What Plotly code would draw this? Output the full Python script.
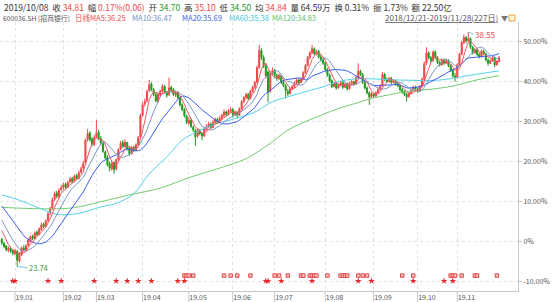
import numpy as np
import pandas as pd
import plotly.graph_objects as go

# ---------------- data (percent change vs. base close) ----------------
open_pct = [
    0.6, -0.4, -1.0, -2.2, -1.6, -2.2, -3.0, -2.4, -4.8, -3.2,
    -1.6, -2.0, -0.8, 0.2, 1.4, 0.8, 2.4, 1.8, 3.0, 4.4,
    3.8, 5.4, 7.2, 8.4, 10.6, 12.2, 11.2, 13.0, 13.6, 14.4,
    13.6, 15.0, 15.8, 15.2, 16.6, 15.8, 17.4, 18.4, 19.8, 25.6,
    27.2, 25.6, 24.2, 26.2, 27.4, 25.8, 24.6, 22.4, 21.0, 19.4,
    18.2, 19.8, 18.2, 20.6, 23.2, 24.8, 23.8, 24.8, 23.4, 22.0,
    23.6, 22.8, 24.2, 26.2, 31.6, 34.4, 35.2, 37.8, 39.4, 38.0,
    36.8, 35.0, 36.6, 37.6, 38.8, 37.2, 36.8, 38.6, 38.0, 36.6,
    37.4, 36.0, 34.2, 33.0, 31.4, 29.6, 30.4, 28.6, 27.8, 26.4,
    27.8, 27.0, 26.4, 28.0, 28.8, 29.4, 28.6, 29.8, 30.6, 29.8,
    30.8, 31.6, 32.4, 31.8, 32.6, 33.0, 31.8, 32.4, 31.6, 33.2,
    35.0, 36.0, 36.8, 35.8, 37.6, 38.6, 39.8, 43.6, 47.8, 46.0,
    44.0, 42.4, 37.6, 42.0, 42.8, 41.6, 40.8, 41.4, 39.8, 39.0,
    37.6, 37.0, 38.2, 38.8, 39.6, 40.4, 39.8, 40.6, 42.2, 44.0,
    46.0, 47.2, 48.2, 47.0, 47.6, 46.2, 45.4, 44.6, 43.0, 41.6,
    40.2, 38.8, 39.6, 38.4, 39.2, 39.8, 38.6, 39.4, 38.2, 39.6,
    40.0, 39.4, 41.0, 42.6, 41.8, 39.8, 38.4, 37.2, 36.2, 37.0,
    36.4, 37.2, 38.0, 39.0, 41.8, 40.6, 40.0, 40.8, 39.8, 40.2,
    39.4, 39.0, 38.0, 37.4, 36.8, 36.2, 37.0, 37.8, 38.6, 38.2,
    37.6, 38.8, 40.6, 44.6, 47.2, 46.0, 45.2, 47.4, 46.0, 44.8,
    44.2, 45.4, 44.6, 45.2, 44.0, 42.8, 41.4, 41.0, 44.2, 46.8,
    49.8, 51.0, 50.2, 50.8, 48.6, 47.2, 48.0, 46.8, 46.2, 47.6,
    47.0, 45.4, 44.6, 45.2, 46.0, 44.2, 45.0,
]
high_pct = [
    1.0, 0.0, -0.8, -1.2, -1.2, -2.0, -1.8, -2.0, -2.6, -1.2,
    -0.8, -0.6, 0.8, 1.6, 1.8, 2.6, 2.8, 3.6, 4.8, 4.8,
    5.6, 7.4, 8.8, 11.0, 12.6, 12.8, 13.4, 14.2, 14.8, 14.8,
    15.2, 16.2, 16.2, 16.8, 17.0, 17.8, 18.8, 20.2, 25.8, 28.2,
    27.6, 26.2, 26.6, 30.4, 28.0, 26.4, 25.0, 22.8, 21.6, 20.0,
    20.2, 20.0, 20.8, 23.4, 25.2, 25.4, 25.6, 25.0, 23.8, 24.0,
    24.0, 24.6, 26.4, 32.0, 34.8, 35.8, 38.0, 40.4, 39.8, 38.4,
    37.2, 37.2, 38.0, 39.4, 39.2, 37.6, 41.0, 39.0, 38.4, 37.8,
    37.6, 36.4, 34.6, 33.4, 31.8, 31.2, 30.8, 29.0, 28.2, 28.4,
    28.2, 27.4, 28.6, 29.4, 30.0, 29.8, 30.4, 31.0, 31.0, 31.4,
    32.0, 33.0, 32.8, 33.2, 33.6, 33.4, 32.8, 32.6, 33.6, 35.4,
    36.4, 37.2, 37.2, 38.0, 39.0, 40.2, 44.0, 49.2, 48.4, 46.6,
    44.6, 42.8, 42.6, 43.6, 43.2, 42.0, 42.0, 41.8, 40.4, 39.4,
    38.2, 38.6, 39.2, 40.0, 40.8, 40.8, 41.0, 42.6, 44.4, 46.4,
    47.6, 49.2, 48.6, 48.0, 48.0, 46.8, 46.0, 45.0, 43.4, 42.0,
    40.6, 40.0, 40.0, 39.6, 40.2, 40.2, 39.8, 39.8, 40.0, 40.4,
    40.2, 41.4, 44.6, 43.0, 42.2, 40.2, 38.8, 37.6, 37.4, 37.2,
    37.6, 38.4, 39.4, 42.4, 42.2, 41.0, 41.2, 41.2, 40.6, 40.4,
    39.8, 39.4, 38.4, 37.8, 37.2, 37.4, 38.2, 39.0, 39.0, 38.8,
    39.2, 41.0, 45.0, 48.6, 47.6, 46.4, 47.8, 47.8, 46.4, 45.2,
    45.8, 45.8, 45.6, 45.6, 44.4, 43.2, 42.2, 44.6, 47.2, 50.2,
    51.8, 51.4, 52.4, 51.0, 49.0, 48.4, 48.2, 47.2, 48.0, 48.0,
    47.2, 45.8, 45.6, 46.4, 46.2, 45.4, 46.4,
]
low_pct = [
    -0.8, -1.6, -2.4, -2.6, -2.8, -3.4, -3.4, -6.2, -5.2, -3.6,
    -2.4, -2.2, -1.2, -0.2, 0.4, 0.6, 1.4, 1.6, 2.8, 3.4,
    3.6, 5.0, 6.6, 8.0, 10.2, 10.8, 11.0, 12.6, 13.0, 13.2,
    13.4, 14.6, 14.6, 14.8, 15.4, 15.6, 17.0, 18.0, 19.6, 25.0,
    25.0, 23.8, 24.0, 25.8, 25.4, 24.2, 22.2, 20.6, 18.8, 17.6,
    17.8, 17.0, 17.8, 20.2, 22.8, 23.4, 23.6, 22.8, 21.4, 21.8,
    22.4, 22.6, 24.0, 26.0, 31.2, 33.8, 34.8, 37.4, 37.6, 36.4,
    34.8, 34.8, 36.2, 37.2, 37.0, 36.0, 36.4, 37.4, 36.4, 36.2,
    35.6, 33.8, 32.6, 31.0, 29.4, 29.2, 28.4, 27.4, 24.0, 26.0,
    26.6, 25.4, 26.2, 27.8, 28.4, 28.2, 28.4, 29.4, 29.4, 29.6,
    30.4, 31.2, 31.2, 31.6, 32.2, 31.0, 31.4, 30.8, 31.4, 33.0,
    34.6, 35.6, 35.4, 35.6, 37.2, 38.2, 39.6, 43.2, 45.4, 43.4,
    41.0, 34.8, 37.2, 41.6, 41.0, 40.2, 40.4, 39.4, 38.6, 35.8,
    36.4, 36.8, 37.8, 38.4, 39.2, 39.4, 39.6, 40.4, 42.0, 43.8,
    45.6, 46.8, 46.6, 46.6, 45.8, 45.0, 44.2, 42.6, 41.2, 39.8,
    38.4, 38.6, 38.0, 38.2, 38.8, 38.2, 38.4, 37.8, 38.0, 39.2,
    39.0, 39.2, 40.8, 41.4, 39.4, 38.0, 36.8, 34.2, 35.8, 36.0,
    36.2, 37.0, 37.8, 38.8, 40.2, 39.6, 39.8, 39.4, 39.6, 39.0,
    38.6, 37.6, 37.0, 36.4, 35.0, 36.0, 36.8, 37.6, 37.8, 37.2,
    37.4, 38.6, 40.4, 44.2, 45.6, 44.8, 45.0, 45.6, 44.4, 43.8,
    44.0, 44.2, 44.4, 43.6, 42.4, 41.0, 40.0, 40.8, 44.0, 46.6,
    49.4, 49.6, 49.8, 48.2, 46.8, 47.0, 46.4, 45.8, 46.0, 46.6,
    45.0, 44.0, 44.4, 45.0, 43.6, 44.0, 44.8,
]
close_pct = [
    -0.3, -1.2, -2.0, -1.6, -2.4, -2.9, -2.2, -4.6, -3.0, -1.5,
    -2.0, -1.0, 0.4, 1.2, 0.8, 2.2, 1.8, 3.2, 4.2, 3.8,
    5.2, 7.0, 8.2, 10.5, 12.0, 11.4, 12.8, 13.5, 14.2, 13.6,
    14.8, 15.6, 15.0, 16.4, 15.8, 17.2, 18.2, 19.5, 25.4, 27.0,
    25.5, 24.4, 26.0, 27.2, 25.8, 24.8, 22.6, 21.0, 19.2, 18.4,
    19.6, 18.0, 20.5, 23.0, 24.6, 23.8, 24.8, 23.2, 22.0, 23.5,
    22.8, 24.2, 26.0, 31.5, 34.2, 35.0, 37.5, 39.2, 38.0, 36.8,
    35.2, 36.8, 37.6, 38.8, 37.4, 36.6, 38.4, 38.0, 36.8, 37.2,
    36.0, 34.2, 33.0, 31.5, 29.8, 30.4, 28.8, 28.0, 26.2, 27.8,
    27.0, 26.4, 28.2, 28.8, 29.4, 28.6, 29.8, 30.6, 29.8, 30.8,
    31.6, 32.4, 31.8, 32.6, 33.0, 31.8, 32.4, 31.6, 33.2, 35.0,
    36.0, 36.8, 35.8, 37.6, 38.6, 39.8, 43.5, 47.8, 46.0, 44.0,
    41.5, 37.4, 42.0, 42.8, 41.6, 40.8, 41.4, 39.8, 39.0, 37.8,
    37.0, 38.2, 38.8, 39.6, 40.4, 39.8, 40.6, 42.2, 44.0, 46.0,
    47.2, 48.2, 47.0, 47.6, 46.2, 45.4, 44.6, 43.0, 41.6, 40.2,
    38.8, 39.6, 38.4, 39.2, 39.8, 38.6, 39.4, 38.2, 39.6, 40.0,
    39.4, 41.0, 42.6, 41.8, 39.8, 38.4, 37.2, 36.2, 37.0, 36.4,
    37.2, 38.0, 39.0, 41.8, 40.6, 40.0, 40.8, 39.8, 40.2, 39.4,
    39.0, 38.0, 37.4, 36.8, 36.2, 37.0, 37.8, 38.6, 38.2, 37.6,
    38.8, 40.6, 44.5, 47.2, 46.0, 45.2, 47.4, 46.0, 44.8, 44.2,
    45.4, 44.6, 45.2, 44.0, 42.8, 41.4, 41.0, 44.2, 46.8, 49.8,
    51.0, 50.2, 50.8, 48.6, 47.2, 48.0, 46.8, 46.2, 47.6, 47.0,
    45.4, 44.6, 45.2, 46.0, 44.2, 45.0, 46.0,
]
# closes of the 19 sessions before the window (needed for MA5/10/20 at the left edge)
pre_close_pct = [14.0, 13.5, 14.5, 13.0, 12.5, 13.8, 12.4, 11.6, 11.0, 10.2,
                 9.0, 8.2, 7.6, 8.4, 6.0, 5.2, 4.4, 3.2, 1.6]

# long moving averages (session index, percent)
ma60_day = [0, 8, 17, 26, 35, 45, 52, 60, 67, 75, 82, 87, 98, 105, 115, 123,
            130, 138, 146, 153, 161, 181, 199, 214, 226]
ma60_pct = [11.7, 10.4, 8.4, 6.8, 7.1, 8.7, 9.6, 12.0, 17.0, 21.2, 25.4, 27.0,
            29.6, 30.6, 32.4, 35.0, 36.2, 37.5, 38.7, 40.0, 40.7, 40.4, 40.4,
            41.7, 42.7]
ma120_day = [0, 31, 45, 58, 72, 86, 99, 110, 115, 123, 130, 138, 146, 153, 161,
             168, 176, 183, 191, 198, 206, 214, 221, 226]
ma120_pct = [8.6, 8.4, 10.0, 11.7, 13.4, 16.2, 18.4, 20.5, 22.0, 25.0, 27.9,
             30.0, 31.8, 33.3, 34.6, 35.8, 36.7, 37.5, 37.9, 38.3, 39.0, 40.2,
             41.0, 41.5]

month_start_day = [6, 28, 43, 64, 85, 105, 124, 147, 169, 189, 207]
month_labels = ["19.01", "19.02", "19.03", "19.04", "19.05", "19.06",
                "19.07", "19.08", "19.09", "19.10", "19.11"]

pct_ticks = [-10, 0, 10, 20, 30, 40, 50]
pct_labels = ["-10.00%", "0%", "10.00%", "20.00%", "30.00%", "40.00%", "50.00%"]

star_days = [5, 6, 21, 27, 42, 52, 57, 62, 68, 80, 83, 120, 121, 127, 141,
             162, 168, 187, 201, 205]
flag_days = [83, 84, 85, 87, 101, 104, 107, 113, 124, 126, 130, 136, 137, 140,
             141, 142, 143, 148, 154, 155, 156, 157, 162, 164, 166, 182, 187,
             204, 205, 206, 209, 215, 216, 225]

low_price_label = "23.74"
high_price_label = "38.55"

header_items = [
    ("2019/10/08", None), ("收", "34.81"), ("幅", "0.17%(0.06)"), ("开", "34.70"),
    ("高", "35.10"), ("低", "34.50"), ("均", "34.84"), ("量", "64.59万"),
    ("换", "0.31%"), ("振", "1.73%"), ("额", "22.50亿"),
]
legend_items = ["日线", "MA5:36.25", "MA10:36.47", "MA20:35.69", "MA60:35.38", "MA120:34.83"]
stock_name = "600036.SH [招商银行]"
range_text = "2018/12/21-2019/11/28(227日)"

# ---------------- styling ----------------
FONT = "Noto Sans CJK SC"
RED = "#f04848"
GREEN = "#1f9b1f"
C_MA5 = "#ee5a64"
C_MA10 = "#7b98c2"
C_MA20 = "#3d5ef0"
C_MA60 = "#52d2ea"
C_MA120 = "#72cc72"
GRID = "#e2e2e2"
AXIS = "#c6c6c6"

W, H = 554, 302
ML, MR, MT, MB = 0, 36, 22, 11
PW, PH = W - ML - MR, H - MT - MB

days = np.arange(len(close_pct))
closes_all = pd.Series(pre_close_pct + close_pct)
n_pre = len(pre_close_pct)
ma5 = closes_all.rolling(5).mean().iloc[n_pre:].to_numpy()
ma10 = closes_all.rolling(10).mean().iloc[n_pre:].to_numpy()
ma20 = closes_all.rolling(20).mean().iloc[n_pre:].to_numpy()

fig = go.Figure()
fig.add_trace(go.Candlestick(
    x=days, open=open_pct, high=high_pct, low=low_pct, close=close_pct,
    increasing=dict(line=dict(color=RED, width=1), fillcolor=RED),
    decreasing=dict(line=dict(color=GREEN, width=1), fillcolor=GREEN),
    whiskerwidth=0, showlegend=False, hoverinfo="skip",
))
for xs, ys, col, shp in [
    (ma120_day, ma120_pct, C_MA120, "spline"),
    (ma60_day, ma60_pct, C_MA60, "spline"),
    (days, ma20, C_MA20, "linear"),
    (days, ma10, C_MA10, "linear"),
    (days, ma5, C_MA5, "linear"),
]:
    fig.add_trace(go.Scatter(x=xs, y=ys, mode="lines",
                             line=dict(color=col, width=1, shape=shp),
                             showlegend=False, hoverinfo="skip"))

fig.add_trace(go.Scatter(x=star_days, y=[-9.8] * len(star_days), mode="markers",
                         marker=dict(symbol="star", size=5, color="#e5262b"),
                         showlegend=False, hoverinfo="skip"))
fig.add_trace(go.Scatter(x=flag_days, y=[-8.45] * len(flag_days), mode="markers",
                         marker=dict(symbol="square", size=3.5, color="#f8c4c4",
                                     line=dict(color="#e04848", width=1)),
                         showlegend=False, hoverinfo="skip"))

# extreme labels
i_lo = int(np.argmin(low_pct))
i_hi = int(np.argmax(high_pct))
ann = []
ann.append(dict(x=i_lo, y=low_pct[i_lo], xref="x", yref="y", text=low_price_label,
                showarrow=True, arrowhead=0, arrowwidth=1, arrowcolor="#7fc4e6",
                ax=10, ay=1, xanchor="left", yanchor="middle",
                font=dict(family=FONT, size=7.5, color="#3a9a3a")))
ann.append(dict(x=i_hi, y=high_pct[i_hi], xref="x", yref="y", text=high_price_label,
                showarrow=True, arrowhead=0, arrowwidth=1, arrowcolor="#7fc4e6",
                ax=5, ay=2, xanchor="left", yanchor="middle",
                font=dict(family=FONT, size=8, color="#e85050")))


def px(xp):
    return (xp - ML) / PW


def py(yp):
    return (H - MB - yp) / PH


# header line 1
value_colors = [None, RED, RED, GREEN, RED, GREEN, RED, "#333", "#333", "#333", "#333"]
parts = []
for (lab, val), vc in zip(header_items, value_colors):
    if val is None:
        parts.append(f"<span style='color:#333'>{lab}</span>")
    else:
        parts.append(f"<span style='color:#333'>{lab}</span>\u00a0<span style='color:{vc}'>{val}</span>")
ann.append(dict(x=px(2), y=py(7), xref="paper", yref="paper", showarrow=False,
                xanchor="left", yanchor="middle", text="\u00a0\u00a0".join(parts),
                font=dict(family=FONT, size=8.5, color="#333")))

# header line 2
leg_colors = [RED, RED, "#6b8ec9", "#3a5ee8", "#3cc6de", "#5cc35c"]
leg_x = [73, 88, 130, 180, 227, 270]
ann.append(dict(x=px(1), y=py(18), xref="paper", yref="paper", showarrow=False,
                xanchor="left", yanchor="middle", text=stock_name,
                font=dict(family=FONT, size=6.8, color="#555")))
for t, c, xp in zip(legend_items, leg_colors, leg_x):
    ann.append(dict(x=px(xp), y=py(18), xref="paper", yref="paper", showarrow=False,
                    xanchor="left", yanchor="middle", text=t,
                    font=dict(family=FONT, size=7.5, color=c)))
ann.append(dict(x=px(500), y=py(18), xref="paper", yref="paper", showarrow=False,
                xanchor="right", yanchor="middle",
                text=f"<span style='text-decoration:underline'>{range_text}</span>",
                font=dict(family=FONT, size=8, color="#555")))
ann.append(dict(x=px(504), y=py(18), xref="paper", yref="paper", showarrow=False,
                xanchor="center", yanchor="middle", text="▼",
                font=dict(family=FONT, size=7, color="#777")))

shapes = []
for d in month_start_day:
    shapes.append(dict(type="line", xref="x", yref="paper", x0=d, x1=d,
                       y0=0, y1=-MB / PH, line=dict(color=AXIS, width=1)))
shapes.append(dict(type="rect", xref="paper", yref="paper",
                   x0=px(509), x1=px(515), y0=py(21), y1=py(15),
                   line=dict(color="#f0a030", width=1), fillcolor="#fff6e0"))

fig.update_layout(
    width=W, height=H,
    margin=dict(l=ML, r=MR, t=MT, b=MB, pad=0),
    paper_bgcolor="white", plot_bgcolor="white",
    annotations=ann, shapes=shapes, showlegend=False,
    xaxis=dict(range=[-0.82, 234.6], tickmode="array", tickvals=month_start_day,
               ticktext=month_labels, ticklabelposition="outside right",
               ticks="", showgrid=True, gridcolor=GRID, griddash="dot", gridwidth=1,
               showline=True, linecolor=AXIS, linewidth=1, zeroline=False,
               rangeslider=dict(visible=False), fixedrange=True,
               tickfont=dict(family=FONT, size=7, color="#555")),
    yaxis=dict(range=[-12.3, 54.9], side="right", tickmode="array",
               tickvals=pct_ticks, ticktext=pct_labels, ticks="outside",
               ticklen=3, tickcolor=AXIS, showgrid=True, gridcolor=GRID,
               griddash="dot", gridwidth=1, showline=True, linecolor=AXIS,
               linewidth=1, zeroline=False, fixedrange=True,
               tickfont=dict(family=FONT, size=7, color="#555")),
)

fig.write_html("out.html")
